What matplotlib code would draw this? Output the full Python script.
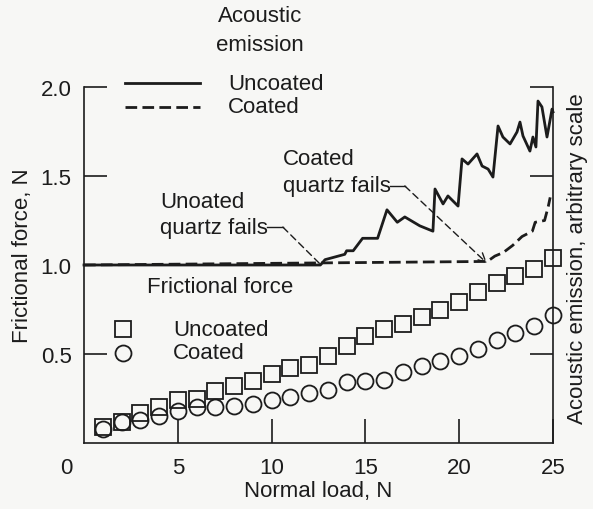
import matplotlib
matplotlib.use('Agg')
import matplotlib.pyplot as plt
import numpy as np

plt.rcParams['font.family'] = ['Liberation Sans', 'DejaVu Sans']
plt.rcParams['font.size'] = 16

####################################################################################
# data
load = np.arange(1, 26)
fric_uncoated = [0.09, 0.12, 0.17, 0.20, 0.24, 0.25, 0.29, 0.32, 0.35, 0.39, 0.42, 0.44, 0.49,
                 0.545, 0.60, 0.64, 0.67, 0.71, 0.75, 0.79, 0.85, 0.90, 0.94, 0.98, 1.04]
fric_coated = [0.08, 0.12, 0.13, 0.15, 0.18, 0.20, 0.20, 0.21, 0.22, 0.24, 0.26, 0.28, 0.30,
               0.34, 0.35, 0.355, 0.40, 0.43, 0.46, 0.49, 0.53, 0.58, 0.62, 0.66, 0.72]

ae_uncoated_x = [0, 12.6, 12.85, 13.9, 14.0, 14.35, 14.85, 15.1, 15.65, 16.15, 16.7, 17.1, 17.9,
                 18.6, 18.71, 19.14, 19.40, 19.94, 20.15, 20.47, 20.95, 21.22, 21.54, 21.80,
                 22.07, 22.33, 22.71, 23.08, 23.24, 23.40, 23.77, 23.93, 24.09, 24.20, 24.41,
                 24.68, 24.95, 25.0]
ae_uncoated_y = [1.0, 1.0, 1.03, 1.06, 1.08, 1.08, 1.15, 1.15, 1.15, 1.31, 1.24, 1.27, 1.22,
                 1.19, 1.427, 1.343, 1.388, 1.331, 1.596, 1.567, 1.624, 1.556, 1.539, 1.494,
                 1.781, 1.719, 1.680, 1.747, 1.803, 1.725, 1.640, 1.719, 1.663, 1.921, 1.888,
                 1.719, 1.876, 1.86]

ae_coated_x = [0, 21.5, 21.9, 22.35, 22.85, 23.35, 23.9, 24.05, 24.55, 24.75, 24.85]
ae_coated_y = [1.0, 1.02, 1.05, 1.07, 1.11, 1.16, 1.19, 1.24, 1.25, 1.33, 1.38]

xticks = [5, 10, 15, 20, 25]
yticks = [0.5, 1.0, 1.5, 2.0]

####################################################################################
ink = '#1c1c1c'
bg = '#f7f7f5'
W, H = 593, 510
dash = (0, (4.2, 1.9))

fig = plt.figure(figsize=(W / 100, H / 100), dpi=100, facecolor=bg)
ax = fig.add_axes([84 / W, 1 - 444 / H, (553 - 84) / W, (444 - 88) / H])
ax.set_facecolor(bg)
ax.set_xlim(0, 25)
ax.set_ylim(0, 2.0)

# acoustic emission
ax.plot(ae_coated_x, ae_coated_y, color=ink, lw=2.0, ls=dash, clip_on=False)
ax.plot(ae_uncoated_x, ae_uncoated_y, color=ink, lw=2.0, clip_on=False)

# frictional force
ax.plot(load, fric_uncoated, 's', ms=12, mfc='none', mec=ink, mew=1.3, clip_on=False)
ax.plot(load, fric_coated, 'o', ms=11.5, mfc='none', mec=ink, mew=1.3, clip_on=False)

# axes styling
for side in ['left', 'bottom', 'right']:
    ax.spines[side].set_linewidth(1.2)
    ax.spines[side].set_color(ink)
ax.spines['top'].set_visible(False)
ax.set_xticks(xticks)
ax.set_yticks(yticks)
ax.tick_params(axis='x', direction='in', length=17, width=1.2, pad=10, color=ink, labelcolor=ink)
ax.tick_params(axis='y', direction='in', length=16.5, width=1.2, pad=9, color=ink, labelcolor=ink)
ax.annotate('0', xy=(-0.95, 0), xycoords=ax.get_xaxis_transform(),
            xytext=(0, -10), textcoords='offset points', ha='center', va='top', color=ink)
ax.set_xlabel('Normal load, N', color=ink)
ax.xaxis.set_label_coords(0.5, -0.105)
ax.set_ylabel('Frictional force, N', color=ink)
ax.yaxis.set_label_coords(-0.108, 0.53)

ax2 = ax.twinx()
ax2.set_ylim(0, 2.0)
ax2.set_yticks([0.5, 1.5, 2.0])
ax2.tick_params(axis='y', direction='in', length=16.5, width=1.2, labelright=False, color=ink)
for side in ['left', 'bottom', 'top', 'right']:
    ax2.spines[side].set_visible(False)
ax2.set_ylabel('Acoustic emission, arbitrary scale', color=ink)
ax2.yaxis.set_label_coords(1.03, 0.52)

# legend: acoustic emission
ax.text(9.4, 2.32, 'Acoustic\nemission', ha='center', va='center', color=ink, linespacing=1.55)
ax.plot([2.2, 6.2], [2.02, 2.02], color=ink, lw=2.0, clip_on=False)
ax.plot([2.2, 6.2], [1.888, 1.888], color=ink, lw=2.0, ls=dash, clip_on=False)
ax.text(7.68, 2.02, 'Uncoated', ha='left', va='center', color=ink)
ax.text(7.68, 1.888, 'Coated', ha='left', va='center', color=ink)

# legend: frictional force
ax.text(3.36, 0.882, 'Frictional force', ha='left', va='center', color=ink)
ax.plot([2.08], [0.64], 's', ms=12, mfc='none', mec=ink, mew=1.3)
ax.plot([2.08], [0.506], 'o', ms=11.5, mfc='none', mec=ink, mew=1.3)
ax.text(4.74, 0.64, 'Uncoated', ha='left', va='center', color=ink)
ax.text(4.74, 0.506, 'Coated', ha='left', va='center', color=ink)

# failure annotations
ax.text(4.05, 1.354, 'Unoated', ha='left', va='center', color=ink)
ax.text(4.05, 1.213, 'quartz fails', ha='left', va='center', color=ink)
ax.plot([9.75, 10.6], [1.213, 1.213], color=ink, lw=1.0)
ax.annotate('', xy=(12.58, 1.006), xytext=(10.6, 1.213),
            arrowprops=dict(arrowstyle='-', color=ink, lw=1.0, ls=(0, (5, 3)),
                            shrinkA=0, shrinkB=0))

ax.text(10.6, 1.596, 'Coated', ha='left', va='center', color=ink)
ax.text(10.6, 1.449, 'quartz fails', ha='left', va='center', color=ink)
ax.plot([16.3, 17.1], [1.444, 1.444], color=ink, lw=1.0)
ax.annotate('', xy=(21.48, 1.01), xytext=(17.1, 1.444),
            arrowprops=dict(arrowstyle='->,head_length=0.4,head_width=0.2', color=ink, lw=1.0,
                            ls=(0, (5, 3)), shrinkA=0, shrinkB=0))

fig.savefig('out.png', dpi=100, facecolor=bg)
